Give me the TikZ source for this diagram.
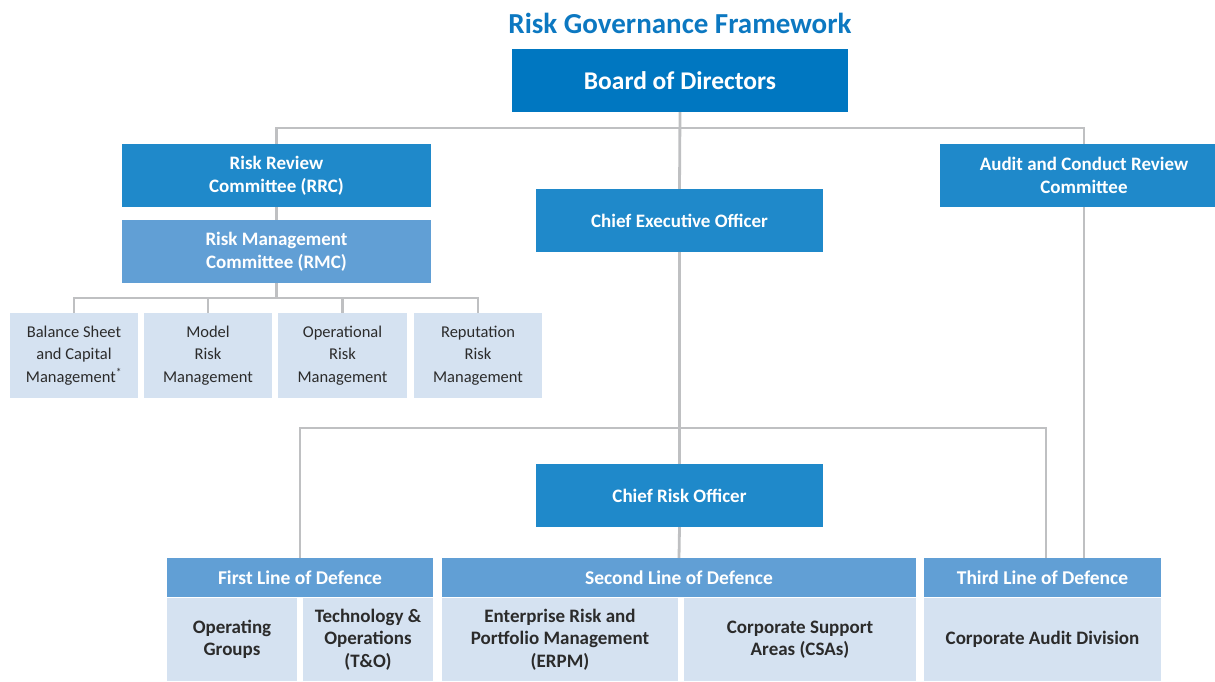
\documentclass[tikz,border=0pt]{standalone}
\usepackage{fontspec}
\setmainfont{Carlito}
\usetikzlibrary{positioning,calc}
\definecolor{titleblue}{HTML}{0C78C1}
\definecolor{deepblue}{HTML}{0077C1}
\definecolor{midblue}{HTML}{1F89CA}
\definecolor{lightblue}{HTML}{619FD5}
\definecolor{paleblue}{HTML}{D5E2F1}
\definecolor{linegray}{HTML}{BFC0C2}
\definecolor{inktext}{HTML}{2B2B2B}
\tikzset{board/.style={fill=deepblue,text=white,font=\fontsize{25.5}{29}\selectfont\bfseries,align=center,inner sep=0pt},
  topbox/.style={fill=midblue,text=white,font=\fontsize{19}{23}\selectfont\bfseries,align=center,inner sep=0pt},
  subbox/.style={fill=lightblue,text=white,font=\fontsize{19}{23}\selectfont\bfseries,align=center,inner sep=0pt},
  unitbox/.style={fill=paleblue,text=inktext,font=\fontsize{16.5}{22.5}\selectfont,align=center,inner sep=0pt,minimum width=128.5pt,minimum height=85pt},
  linehead/.style={fill=lightblue,text=white,font=\fontsize{19.5}{22}\selectfont\bfseries,align=center,inner sep=0pt,minimum height=39pt},
  areabox/.style={fill=paleblue,text=inktext,font=\fontsize{19}{22.5}\selectfont\bfseries,align=center,inner sep=0pt,minimum height=83pt},
  link/.style={draw=linegray,line width=2.8pt}}

\begin{document}
\begin{tikzpicture}[x=1pt,y=-1pt]
\useasboundingbox (0,0) rectangle (1215,681);
% Title and top of the structure.
\node[text=titleblue,font=\fontsize{29}{32}\selectfont\bfseries] (title) at (680,23) {Risk Governance Framework};
\node[board,minimum width=336pt,minimum height=63pt] (bod) at (680,80.5) {Board of Directors};
% Board committees and the executive.
\node[topbox,minimum width=309pt,minimum height=63pt] (rrc) at (276.5,175.5) {Risk Review\\Committee (RRC)};
\node[subbox,minimum width=309pt,minimum height=63pt] (rmc) at (276.5,251.5) {Risk Management\\Committee (RMC)};
\node[topbox,minimum width=288pt,minimum height=63pt] (acrc) at (1084,175.5) {Audit and Conduct Review\\Committee};
\node[topbox,minimum width=287pt,minimum height=63pt] (ceo) at (679.5,220.5) {Chief Executive Officer};
\node[topbox,minimum width=287pt,minimum height=63pt] (cro) at (679.5,495.5) {Chief Risk Officer};
% Management committees under the RMC.
\node[unitbox] (bscm) at (74,355.5) {Balance Sheet\\and Capital\\Management\textsuperscript{*}};
\node[unitbox] (mrm) at (208,355.5) {Model\\Risk\\Management};
\node[unitbox] (orm) at (342.5,355.5) {Operational\\Risk\\Management};
\node[unitbox] (rpm) at (478,355.5) {Reputation\\Risk\\Management};
% Three lines of defence.
\node[linehead,minimum width=266pt] (first) at (300,577.5) {First Line of Defence};
\node[linehead,minimum width=474pt] (second) at (679,577.5) {Second Line of Defence};
\node[linehead,minimum width=237pt] (third) at (1042.5,577.5) {Third Line of Defence};
\node[areabox,minimum width=130pt] (opg) at (232,639.5) {Operating\\Groups};
\node[areabox,minimum width=130pt] (tno) at (368,639.5) {Technology \&\\Operations\\(T\&O)};
\node[areabox,minimum width=236pt] (erpm) at (560,639.5) {Enterprise Risk and\\Portfolio Management\\(ERPM)};
\node[areabox,minimum width=232pt] (csa) at (800,639.5) {Corporate Support\\Areas (CSAs)};
\node[areabox,minimum width=237pt] (cad) at (1042.5,639.5) {Corporate Audit Division};
% Reporting lines.
\coordinate (topbus) at (680,128);
\coordinate (rmcbus) at (276.5,298);
\coordinate (crobus) at (680,428);
\draw[link] (bod.south) -- (ceo.north);
\draw[link] (rrc.north) |- (topbus) -| (acrc.north);
\draw[link] (rrc.south) -- (rmc.north);
\draw[link] (rmc.south) -- (rmcbus);
\foreach \u in {bscm,mrm,orm,rpm}{
  \draw[link] (rmcbus) -| (\u.north);
}
\draw[link] (ceo.south) -- (cro.north);
\draw[link] (first.north) |- (crobus) -| ([xshift=3.5pt]third.north);
\draw[link] (cro.south) -- (second.north);
\draw[link] (acrc.south) -- (acrc.south |- third.north);
\end{tikzpicture}
\end{document}
